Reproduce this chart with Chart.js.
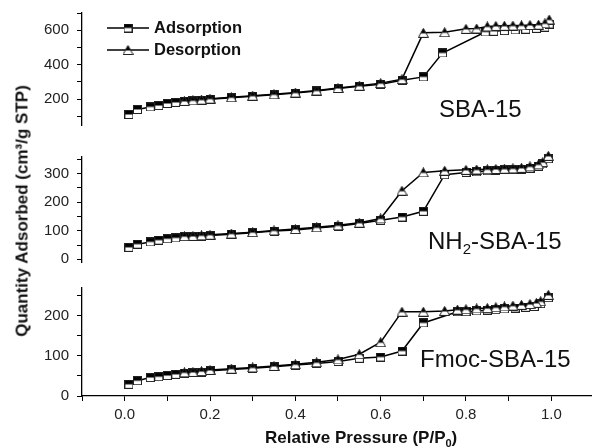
<!DOCTYPE html>
<html>
<head>
<meta charset="utf-8">
<script src="https://cdn.jsdelivr.net/npm/chart.js@4.4.0/dist/chart.umd.min.js"></script>
<style>
  html, body { margin: 0; padding: 0; background: #fff; }
  body { width: 592px; height: 448px; overflow: hidden; position: relative;
         font-family: "Liberation Sans", Arial, sans-serif; color: #111; }
  canvas.panel { position: absolute; left: 0; }
  .txt { position: absolute; white-space: nowrap; line-height: 1; }
  .name { font-size: 24px; }
  .name sub { font-size: 15px; vertical-align: -5px; line-height: 0; }
  .axis-title { font-weight: bold; font-size: 17px; }
  .axis-title sub { font-size: 11px; vertical-align: -4px; line-height: 0; }
  .leg { position: absolute; left: 107px; display: flex; align-items: center;
         font-weight: bold; font-size: 16.5px; }
  .leg canvas { margin-right: 5px; }
</style>
</head>
<body>
<canvas id="top" class="panel" width="596" height="126" style="top:0px"></canvas>
<canvas id="mid" class="panel" width="596" height="124" style="top:140px"></canvas>
<canvas id="bot" class="panel" width="596" height="178" style="top:270px"></canvas>

<div class="leg" id="legAds" style="top:18px"><span>Adsorption</span></div>
<div class="leg" id="legDes" style="top:40px"><span>Desorption</span></div>

<div class="txt name" style="left:439px; top:97px">SBA-15</div>
<div class="txt name" style="left:428px; top:229px">NH<sub>2</sub>-SBA-15</div>
<div class="txt name" style="left:420px; top:347px">Fmoc-SBA-15</div>

<div class="txt axis-title" style="left:22px; top:211px; transform: translate(-50%,-50%) rotate(-90deg)">Quantity Adsorbed (cm³/g STP)</div>
<div class="txt axis-title" style="left:265px; top:429px">Relative Pressure (P/P<sub>0</sub>)</div>

<script>
// SBA-15
const sbaAdsP = [0.01, 0.03, 0.06, 0.08, 0.10, 0.12, 0.14, 0.16, 0.18, 0.20, 0.25, 0.30, 0.35, 0.40, 0.45, 0.50, 0.55, 0.60,
                 0.65, 0.70, 0.745, 0.845, 0.865, 0.89, 0.915, 0.94, 0.965, 0.985, 0.995];
const sbaAdsV = [111, 140, 155, 163, 175, 181, 188, 190, 194, 200, 208, 217, 225, 235, 248, 262, 275, 287,
                 310, 329, 468, 590, 594, 598, 602, 606, 611, 618, 636];
const sbaDesP = [0.995, 0.985, 0.97, 0.95, 0.93, 0.91, 0.89, 0.87, 0.85, 0.825, 0.80, 0.75, 0.70, 0.65, 0.60, 0.55, 0.50,
                 0.45, 0.40, 0.35, 0.30, 0.25, 0.20, 0.18, 0.16, 0.14];
const sbaDesV = [662, 640, 632, 630, 628, 627, 626, 625, 622, 610, 608, 588, 585, 316, 293, 278, 265,
                 250, 238, 228, 220, 211, 203, 197, 193, 190];

// NH2-SBA-15
const nh2AdsP = [0.01, 0.03, 0.06, 0.08, 0.10, 0.12, 0.14, 0.16, 0.18, 0.20, 0.25, 0.30, 0.35, 0.40, 0.45, 0.50, 0.55, 0.60,
                 0.65, 0.70, 0.75, 0.80, 0.825, 0.85, 0.87, 0.89, 0.91, 0.93, 0.95, 0.97, 0.98, 0.993];
const nh2AdsV = [42, 53, 61, 67, 72, 75, 79, 80, 81, 83, 88, 93, 99, 103, 110, 116, 125, 137,
                 148, 168, 296, 304, 306, 310, 312, 313, 314, 315, 319, 326, 334, 352];
const nh2DesP = [0.993, 0.98, 0.97, 0.95, 0.93, 0.91, 0.89, 0.87, 0.85, 0.825, 0.80, 0.75, 0.70, 0.65, 0.60, 0.55, 0.50,
                 0.45, 0.40, 0.35, 0.30, 0.25, 0.20, 0.18, 0.16, 0.14];
const nh2DesV = [362, 340, 332, 325, 320, 318, 317, 316, 315, 314, 313, 310, 304, 240, 143, 128, 119,
                 112, 106, 101, 95, 90, 86, 84, 82, 81];

// Fmoc-SBA-15
const fmocAdsP = [0.01, 0.03, 0.06, 0.08, 0.10, 0.12, 0.14, 0.16, 0.18, 0.20, 0.25, 0.30, 0.35, 0.40, 0.45, 0.50, 0.55, 0.60,
                  0.65, 0.70, 0.78, 0.80, 0.825, 0.85, 0.87, 0.89, 0.915, 0.94, 0.96, 0.975, 0.993];
const fmocAdsV = [29, 38, 46, 48, 51, 54, 57, 58, 59, 63, 66, 69, 73, 77, 81, 86, 94, 97,
                  112, 182, 210, 210, 212, 214, 215, 217, 219, 221, 223, 230, 245];
const fmocDesP = [0.993, 0.975, 0.965, 0.95, 0.93, 0.91, 0.89, 0.87, 0.85, 0.825, 0.80, 0.78, 0.75, 0.70, 0.65, 0.60, 0.55,
                  0.50, 0.45, 0.40, 0.35, 0.30, 0.25, 0.20, 0.18, 0.16, 0.14];
const fmocDesV = [252, 236, 232, 229, 227, 225, 223, 221, 219, 218, 216, 215, 212, 210, 210, 134, 104,
                  91, 84, 79, 75, 71, 68, 65, 62, 60, 59];

const xTickLabels = ['0.0', '0.2', '0.4', '0.6', '0.8', '1.0'];
const topTickLabels = [200, 400, 600];
const midTickLabels = [0, 100, 200, 300];
const botTickLabels = [0, 100, 200];

// half-filled markers like the Origin plot
function squareMarker() {
  const c = document.createElement('canvas');
  c.width = 9; c.height = 9;
  const g = c.getContext('2d');
  g.fillStyle = '#fff'; g.fillRect(0.5, 0.5, 8, 8);
  g.fillStyle = '#000'; g.fillRect(0.5, 0.5, 8, 4);
  g.strokeStyle = '#222'; g.lineWidth = 1; g.strokeRect(0.5, 0.5, 8, 8);
  return c;
}
function triangleMarker() {
  const c = document.createElement('canvas');
  c.width = 11; c.height = 10;
  const g = c.getContext('2d');
  g.beginPath(); g.moveTo(5.5, 0.5); g.lineTo(10.5, 9.5); g.lineTo(0.5, 9.5); g.closePath();
  g.fillStyle = '#fff'; g.fill();
  g.save(); g.beginPath(); g.rect(0, 0, 11, 5.5); g.clip();
  g.beginPath(); g.moveTo(5.5, 0.5); g.lineTo(10.5, 9.5); g.lineTo(0.5, 9.5); g.closePath();
  g.fillStyle = '#000'; g.fill(); g.restore();
  g.beginPath(); g.moveTo(5.5, 0.5); g.lineTo(10.5, 9.5); g.lineTo(0.5, 9.5); g.closePath();
  g.strokeStyle = '#222'; g.lineWidth = 1; g.stroke();
  return c;
}
const sqM = squareMarker();
const triM = triangleMarker();

function legendSymbol(m) {
  const c = document.createElement('canvas');
  c.width = 42; c.height = 14;
  const g = c.getContext('2d');
  g.strokeStyle = '#000'; g.lineWidth = 1.6;
  g.beginPath(); g.moveTo(0, 7); g.lineTo(42, 7); g.stroke();
  g.drawImage(m, 21 - m.width / 2, 7 - m.height / 2);
  return c;
}
document.getElementById('legAds').prepend(legendSymbol(sqM));
document.getElementById('legDes').prepend(legendSymbol(triM));

function pts(p, v) { return p.map((x, i) => ({ x: x, y: v[i] })); }

const tickFont = { family: '"Liberation Sans", Arial, sans-serif', size: 15 };

function makePanel(id, adsP, adsV, desP, desV, yMin, yMax, yStep, yLabels, pad, showX) {
  new Chart(document.getElementById(id), {
    type: 'line',
    data: {
      datasets: [
        { label: 'Desorption', data: pts(desP, desV), borderColor: '#000', borderWidth: 1.5,
          pointStyle: triM, pointRadius: 5, clip: false },
        { label: 'Adsorption', data: pts(adsP, adsV), borderColor: '#000', borderWidth: 1.5,
          pointStyle: sqM, pointRadius: 5, clip: false }
      ]
    },
    options: {
      responsive: false,
      animation: false,
      layout: { padding: pad, autoPadding: false },
      plugins: { legend: { display: false }, tooltip: { enabled: false } },
      scales: {
        x: {
          type: 'linear', min: -0.1, max: 1.1, display: showX,
          afterFit: s => {
            s.height = showX ? 52 : 0;
            s.paddingLeft = 0; s.paddingRight = 0;
          },
          border: { display: true, color: '#000', width: 1.3 },
          grid: { drawOnChartArea: false, tickLength: 5, color: '#000' },
          afterBuildTicks: s => {
            s.ticks = [];
            for (let k = -1; k <= 11; k++) s.ticks.push({ value: k / 10 });
          },
          ticks: {
            autoSkip: false, maxRotation: 0, padding: 5, color: '#222', font: tickFont,
            callback: v => {
              const k = Math.round(v * 10);
              return (k >= 0 && k % 2 === 0) ? xTickLabels[k / 2] : '';
            }
          }
        },
        y: {
          min: yMin, max: yMax,
          afterFit: s => {
            s.width = 82;
            s.paddingTop = 0; s.paddingBottom = 0;
          },
          border: { display: true, color: '#000', width: 1.3 },
          grid: { drawOnChartArea: false, tickLength: 5, color: '#000' },
          afterBuildTicks: s => {
            s.ticks = [];
            for (let v = Math.ceil(yMin / yStep) * yStep; v <= yMax; v += yStep) s.ticks.push({ value: v });
          },
          ticks: {
            autoSkip: false, padding: 8, color: '#222', font: tickFont,
            callback: v => yLabels.includes(v) ? String(v) : ''
          }
        }
      }
    }
  });
}

makePanel('top', sbaAdsP, sbaAdsV, sbaDesP, sbaDesV, 50, 700, 100, topTickLabels,
  { top: 13, bottom: 1, left: 0, right: 2 }, false);
makePanel('mid', nh2AdsP, nh2AdsV, nh2DesP, nh2DesV, -10, 360, 50, midTickLabels,
  { top: 16.4, bottom: 1.8, left: 0, right: 2 }, false);
makePanel('bot', fmocAdsP, fmocAdsV, fmocDesP, fmocDesV, 0, 270, 50, botTickLabels,
  { top: 17.6, bottom: 0, left: 0, right: 2 }, true);
</script>
</body>
</html>
